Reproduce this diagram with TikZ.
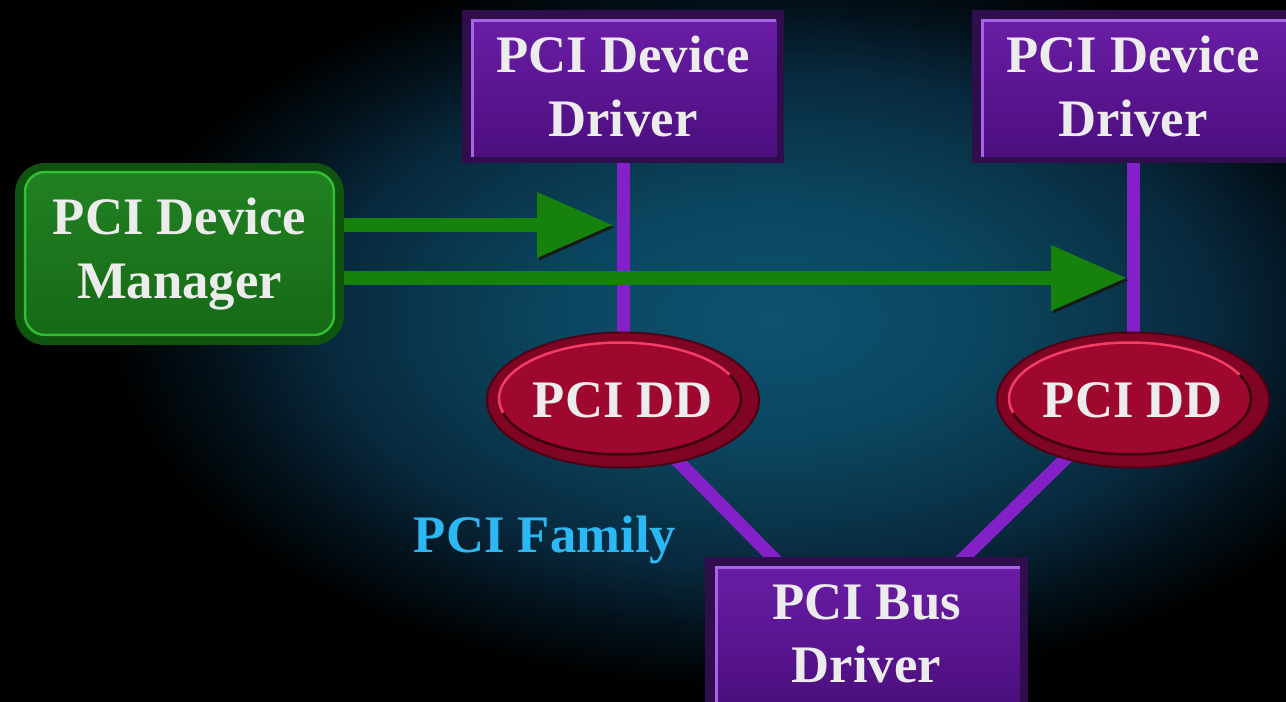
\documentclass[tikz,border=0pt]{standalone}
\usepackage{fontspec}
\setmainfont{Liberation Serif}
\usetikzlibrary{shapes.geometric,arrows.meta,calc}
\definecolor{gA}{RGB}{13,82,112}
\definecolor{gB}{RGB}{10,70,96}
\definecolor{gC}{RGB}{10,58,80}
\definecolor{gD}{RGB}{8,40,60}
\definecolor{gE}{RGB}{3,18,28}
\definecolor{pdark}{RGB}{48,14,78}
\definecolor{ptop}{RGB}{108,30,168}
\definecolor{pbot}{RGB}{74,14,124}
\definecolor{plight}{RGB}{168,100,230}
\definecolor{plinec}{RGB}{132,32,200}
\definecolor{gdark}{RGB}{14,84,14}
\definecolor{gtop}{RGB}{34,130,34}
\definecolor{gbot}{RGB}{22,104,22}
\definecolor{glight}{RGB}{50,190,50}
\definecolor{garr}{RGB}{22,130,12}
\definecolor{eout}{RGB}{128,4,36}
\definecolor{ein}{RGB}{158,8,46}
\definecolor{epink}{RGB}{245,60,100}
\definecolor{edark}{RGB}{60,0,15}
\definecolor{edge}{RGB}{80,0,20}
\definecolor{textc}{RGB}{236,236,236}
\definecolor{famc}{RGB}{44,184,244}
\pgfdeclareradialshading{glow}{\pgfpoint{0bp}{0bp}}{color(0bp)=(gA); color(8bp)=(gB); color(12bp)=(gC); color(17bp)=(gD); color(21bp)=(gE); color(25bp)=(black); color(50bp)=(black)}
\pgfdeclarelayer{back}
\pgfdeclarelayer{lines}
\pgfsetlayers{back,lines,main}
\begin{document}
\begin{tikzpicture}[x=0.02cm,y=-0.02cm,
  txt/.style={text=textc, font=\bfseries\fontsize{30}{35.9}\selectfont, align=center},
  pbox/.style={txt, rectangle, fill=pdark, minimum width=6.46cm, minimum height=3.06cm, inner sep=0pt,
    path picture={
      \shade[sharp corners, top color=ptop, bottom color=pbot]
        ([xshift=0.22cm,yshift=-0.2cm]path picture bounding box.north west) rectangle
        ([xshift=-0.16cm,yshift=0.12cm]path picture bounding box.south east);
      \draw[sharp corners, plight, line width=0.06cm]
        ([xshift=0.22cm,yshift=0.12cm]path picture bounding box.south west) --
        ([xshift=0.22cm,yshift=-0.2cm]path picture bounding box.north west) --
        ([xshift=-0.16cm,yshift=-0.2cm]path picture bounding box.north east);
    }},
  gbox/.style={txt, rectangle, rounded corners=0.6cm, fill=gdark, minimum width=6.58cm, minimum height=3.64cm, inner sep=0pt,
    path picture={
      \shadedraw[rounded corners=0.4cm, top color=gtop, bottom color=gbot, draw=glight, line width=0.05cm]
        ([xshift=0.2cm,yshift=-0.18cm]path picture bounding box.north west) rectangle
        ([xshift=-0.2cm,yshift=0.2cm]path picture bounding box.south east);
    }},
  ell/.style={txt, ellipse, fill=eout, draw=edge, line width=0.04cm, minimum width=5.44cm, minimum height=2.7cm, inner sep=0pt,
    path picture={
      \coordinate (pc) at ([xshift=-0.06cm,yshift=0.03cm]path picture bounding box.center);
      \fill[ein] (pc) ellipse [x radius=2.42cm, y radius=1.12cm];
      \draw[epink, line width=0.05cm] (pc) ++(25:2.42cm and 1.12cm) arc[start angle=25, end angle=195, x radius=2.42cm, y radius=1.12cm];
      \draw[edark, line width=0.05cm] (pc) ++(195:2.42cm and 1.12cm) arc[start angle=195, end angle=385, x radius=2.42cm, y radius=1.12cm];
    }},
  famtext/.style={text=famc, font=\bfseries\fontsize{30}{35.9}\selectfont, inner sep=0pt},
  pline/.style={draw=plinec, line width=0.26cm, shorten <=-0.15cm, shorten >=-0.15cm,
    preaction={draw=black, transform canvas={xshift=0.06cm}}},
  garrow/.style={draw=garr, line width=0.27cm, -{Triangle[length=1.5cm,width=1.32cm,line width=0pt]},
    preaction={draw=black!90, transform canvas={shift={(0.04cm,-0.05cm)}}}}
]
\useasboundingbox (0,0) rectangle (1286,702);
\begin{pgfonlayer}{back}
  \fill[black] (0,0) rectangle (1286,702);
  \shade[shading=glow] (770,320) ellipse [x radius=13.2cm, y radius=7.4cm];
\end{pgfonlayer}

\node[pbox] (d1) at (623,86.5) {PCI Device\\Driver};
\node[pbox] (d2) at (1133,86.5) {PCI Device\\Driver};
\node[gbox] (mgr) at (179.5,254) {PCI Device\\Manager};
\node[ell] (e1) at (623,400) {PCI DD};
\node[ell] (e2) at (1133,400) {PCI DD};
\node[pbox] (bus) at (866.5,633.5) {PCI Bus\\Driver};
\node[famtext] (fam) at (545,540) {PCI Family};

\coordinate (t1) at (612,225);
\coordinate (t2) at (1126,278);

\begin{pgfonlayer}{lines}
  \draw[pline] (d1) -- (e1);
  \draw[pline] (d2) -- (e2);
  \draw[pline] (e1.-48) -- ([xshift=-1.89cm]bus.north);
  \draw[pline] (e2.221) -- ([xshift=1.97cm]bus.north);
  \draw[garrow] (mgr.east |- t1) -- (t1);
  \draw[garrow] (mgr.east |- t2) -- (t2);
\end{pgfonlayer}
\end{tikzpicture}
\end{document}
